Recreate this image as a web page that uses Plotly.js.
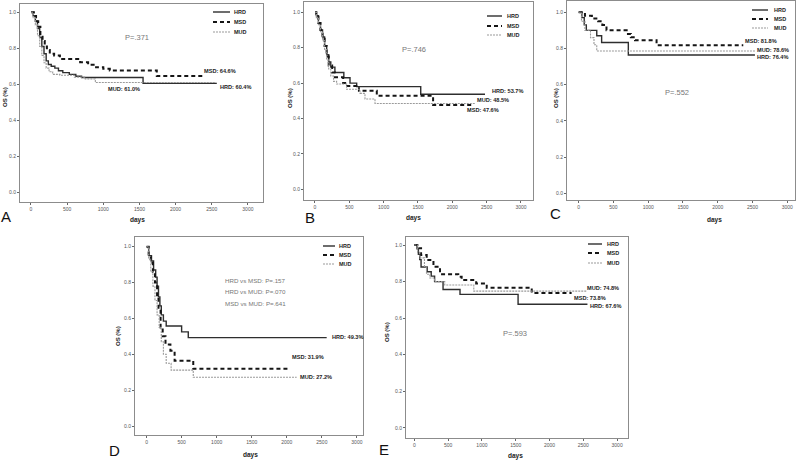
<!DOCTYPE html>
<html><head><meta charset="utf-8">
<script src="https://cdn.plot.ly/plotly-3.0.1.min.js"></script>
<style>html,body{margin:0;padding:0;background:#fff}#chart{width:800px;height:461px}</style>
</head><body><div id="chart"></div>
<script>
// ---------- DATA (Kaplan-Meier step curves: days / overall survival) ----------
const groups = ["HRD", "MSD", "MUD"];
const xTicks = [0, 500, 1000, 1500, 2000, 2500, 3000];
const yTicks = [0.0, 0.2, 0.4, 0.6, 0.8, 1.0];

// Panel A
const aHrdDays = [0,30,60,90,120,150,180,210,240,280,330,380,440,530,620,700,1550,2570];
const aHrdOS   = [1.0,0.98,0.95,0.91,0.86,0.81,0.77,0.73,0.71,0.70,0.69,0.675,0.665,0.655,0.645,0.638,0.605,0.605];
const aMsdDays = [0,40,70,100,130,160,190,220,260,320,400,680,790,900,1000,1090,1740,2380];
const aMsdOS   = [1.0,0.98,0.95,0.92,0.88,0.84,0.81,0.79,0.77,0.76,0.74,0.722,0.709,0.694,0.686,0.677,0.646,0.646];
const aMudDays = [0,30,60,90,120,150,180,210,250,300,400,600,750,890,2560];
const aMudOS   = [1.0,0.97,0.93,0.87,0.81,0.76,0.72,0.69,0.67,0.655,0.65,0.64,0.63,0.61,0.61];

// Panel B
const bHrdDays = [0,20,50,80,110,140,170,200,230,290,420,510,607,1540,2476];
const bHrdOS   = [1.0,0.98,0.94,0.90,0.86,0.81,0.76,0.72,0.69,0.66,0.63,0.60,0.58,0.537,0.537];
const bMsdDays = [0,20,50,80,110,140,170,200,250,290,410,470,640,900,1720,2306];
const bMsdOS   = [1.0,0.98,0.94,0.90,0.86,0.81,0.75,0.70,0.66,0.633,0.60,0.584,0.557,0.529,0.476,0.476];
const bMudDays = [0,20,50,80,110,140,170,200,230,270,315,460,655,728,874,2330];
const bMudOS   = [1.0,0.97,0.93,0.89,0.84,0.79,0.73,0.68,0.64,0.61,0.595,0.565,0.542,0.51,0.485,0.485];

// Panel C
const cHrdDays = [0,45,80,110,260,330,714,2535];
const cHrdOS   = [1.0,0.97,0.93,0.90,0.87,0.833,0.764,0.764];
const cMsdDays = [0,90,190,280,340,400,690,750,810,1120,2367];
const cMsdOS   = [1.0,0.98,0.965,0.95,0.93,0.90,0.88,0.862,0.845,0.818,0.818];
const cMudDays = [0,40,90,170,220,260,2535];
const cMudOS   = [1.0,0.95,0.90,0.86,0.82,0.786,0.786];

// Panel D
const dHrdDays = [0,30,70,100,130,150,170,190,210,240,280,500,595,2569];
const dHrdOS   = [1.0,0.95,0.92,0.87,0.83,0.78,0.72,0.67,0.62,0.585,0.558,0.525,0.493,0.493];
const dMsdDays = [0,30,60,90,120,150,170,200,230,270,340,400,666,2017];
const dMsdOS   = [1.0,0.95,0.91,0.86,0.80,0.72,0.65,0.55,0.50,0.455,0.42,0.364,0.319,0.319];
const dMudDays = [0,30,60,90,120,150,180,210,240,280,350,666,2141];
const dMudOS   = [1.0,0.93,0.86,0.78,0.70,0.62,0.55,0.47,0.40,0.35,0.312,0.272,0.272];

// Panel E
const eHrdDays = [0,40,60,80,100,190,250,300,425,676,1535,2561];
const eHrdOS   = [1.0,0.98,0.95,0.92,0.88,0.854,0.83,0.80,0.757,0.730,0.676,0.676];
const eMsdDays = [0,60,100,183,283,380,650,700,915,1071,1737,2327];
const eMsdOS   = [1.0,0.982,0.945,0.918,0.881,0.84,0.827,0.808,0.79,0.766,0.738,0.738];
const eMudDays = [0,50,80,150,180,230,300,450,880,2550];
const eMudOS   = [1.0,0.96,0.93,0.88,0.84,0.82,0.80,0.781,0.748,0.748];

const endLabels = {
  A: ["HRD: 60.4%", "MSD: 64.6%", "MUD: 61.0%"],
  B: ["HRD: 53.7%", "MSD: 47.6%", "MUD: 48.5%"],
  C: ["HRD: 76.4%", "MSD: 81.8%", "MUD: 78.6%"],
  D: ["HRD: 49.3%", "MSD: 31.9%", "MUD: 27.2%"],
  E: ["HRD: 67.6%", "MSD: 73.8%", "MUD: 74.8%"]
};
const pTexts = {
  A: ["P=.371"], B: ["P=.746"], C: ["P=.552"],
  D: ["HRD vs MSD: P=.157", "HRD vs MUD: P=.070", "MSD vs MUD: P=.641"],
  E: ["P=.593"]
};
const panelSeries = {
  A: [[aHrdDays,aHrdOS],[aMsdDays,aMsdOS],[aMudDays,aMudOS]],
  B: [[bHrdDays,bHrdOS],[bMsdDays,bMsdOS],[bMudDays,bMudOS]],
  C: [[cHrdDays,cHrdOS],[cMsdDays,cMsdOS],[cMudDays,cMudOS]],
  D: [[dHrdDays,dHrdOS],[dMsdDays,dMsdOS],[dMudDays,dMudOS]],
  E: [[eHrdDays,eHrdOS],[eMsdDays,eMsdOS],[eMudDays,eMudOS]]
};

// ---------- LAYOUT / STYLE ----------
const W = 800, H = 461;
const fx = p => p / W, fy = p => 1 - p / H;
const FONT = "Liberation Sans, Arial, sans-serif";
const styles = [
  {color:"#2e2e2e", width:1.4, dash:"solid"},
  {color:"#151515", width:2.0, dash:"4px,3px"},
  {color:"#9a9a9a", width:1.1, dash:"2px,1px"}
];
// pixel placements of each panel's elements
const panels = {
  A: {ax:"",  box:[20,4,263,202],  xr:[-152,3209], yr:[-0.054,1.046],
      legend:{x1:213,x2:230,tx:232,ys:[12,22,32]},
      labels:[[218,87],[202,71],[106,89]], p:{x:137,y:38,anchor:"center"},
      days:[137,220], os:[5,97], letter:[6,216]},
  B: {ax:"2", box:[304,2,533,200], xr:[-160,3175], yr:[-0.06,1.058],
      legend:{x1:487,x2:502,tx:505,ys:[16,26,35]},
      labels:[[490,91],[465,110],[475,100]], p:{x:414,y:49,anchor:"center"},
      days:[414,218], os:[290,98], letter:[310,217]},
  C: {ax:"3", box:[567,1,795,200], xr:[-168,3111], yr:[-0.037,1.062],
      legend:{x1:752,x2:768,tx:772,ys:[10,19,28]},
      labels:[[755,57],[743,41],[755,50]], p:{x:677,y:92,anchor:"center"},
      days:[714,220], os:[556,98], letter:[555,213]},
  D: {ax:"4", box:[135,237,363,435], xr:[-165,3087], yr:[-0.05,1.054],
      legend:{x1:323,x2:335,tx:337,ys:[246,255,264]},
      labels:[[330,337],[290,357],[298,377]], p:{x:223,y:280,dy:11.5,anchor:"left"},
      days:[250,455], os:[118,336], letter:[115,450]},
  E: {ax:"5", box:[406,237,628,438], xr:[-123,3161], yr:[-0.056,1.044],
      legend:{x1:588,x2:602,tx:605,ys:[244,253,263]},
      labels:[[588,306],[572,298],[585,288]], p:{x:515,y:333,anchor:"center"},
      days:[515,456], os:[387,332], letter:[384,449]}
};

const traces = [], shapes = [], annotations = [];
const layout = {
  width: W, height: H, margin:{l:0,r:0,t:0,b:0},
  paper_bgcolor:"#fff", plot_bgcolor:"#fff", showlegend:false,
  font:{family:FONT, color:"#333"}
};

Object.keys(panels).forEach(key => {
  const P = panels[key];
  const xa = "xaxis" + P.ax, ya = "yaxis" + P.ax;
  const [x0,y0,x1,y1] = P.box;
  const axCommon = {showline:true, mirror:true, linecolor:"#8c8c8c", linewidth:1,
    showgrid:false, zeroline:false, ticks:"outside", ticklen:2, tickcolor:"#666",
    tickfont:{size:5, color:"#555", family:FONT}, fixedrange:true};
  layout[xa] = Object.assign({}, axCommon, {domain:[fx(x0), fx(x1)], range:P.xr,
    tickvals:xTicks, ticktext:xTicks.map(String), anchor:"y"+P.ax});
  layout[ya] = Object.assign({}, axCommon, {domain:[fy(y1), fy(y0)], range:P.yr,
    tickvals:yTicks, ticktext:yTicks.map(v=>v.toFixed(1)), anchor:"x"+P.ax});

  panelSeries[key].forEach((s, i) => {
    traces.push({type:"scatter", mode:"lines", name:groups[i], x:s[0], y:s[1],
      xaxis:"x"+P.ax, yaxis:"y"+P.ax, line:Object.assign({shape:"hv"}, styles[i]),
      hoverinfo:"skip"});
    // legend sample + label
    shapes.push({type:"line", xref:"paper", yref:"paper",
      x0:fx(P.legend.x1), x1:fx(P.legend.x2), y0:fy(P.legend.ys[i]), y1:fy(P.legend.ys[i]),
      line:{color:styles[i].color, width:styles[i].width, dash:styles[i].dash}});
    annotations.push({xref:"paper", yref:"paper", x:fx(P.legend.tx), y:fy(P.legend.ys[i]),
      xanchor:"left", yanchor:"middle", showarrow:false, text:"<b>"+groups[i]+"</b>",
      font:{size:5.5, color:"#222", family:FONT}});
    // end-of-curve labels
    annotations.push({xref:"paper", yref:"paper", x:fx(P.labels[i][0]), y:fy(P.labels[i][1]),
      xanchor:"left", yanchor:"middle", showarrow:false, text:"<b>"+endLabels[key][i]+"</b>",
      font:{size:5.6, color:"#222", family:FONT}});
  });
  // p values
  pTexts[key].forEach((t, j) => {
    annotations.push({xref:"paper", yref:"paper", x:fx(P.p.x), y:fy(P.p.y + j*(P.p.dy||0)),
      xanchor:P.p.anchor, yanchor:"middle", showarrow:false, text:t,
      font:{size:key==="D"?6.2:7.5, color:"#777", family:FONT}});
  });
  // axis titles
  annotations.push({xref:"paper", yref:"paper", x:fx(P.days[0]), y:fy(P.days[1]),
    xanchor:"center", yanchor:"middle", showarrow:false, text:"<b>days</b>",
    font:{size:6.5, color:"#222", family:FONT}});
  annotations.push({xref:"paper", yref:"paper", x:fx(P.os[0]), y:fy(P.os[1]),
    xanchor:"center", yanchor:"middle", showarrow:false, text:"<b>OS (%)</b>", textangle:-90,
    font:{size:6, color:"#222", family:FONT}});
  // panel letter
  annotations.push({xref:"paper", yref:"paper", x:fx(P.letter[0]), y:fy(P.letter[1]),
    xanchor:"center", yanchor:"middle", showarrow:false, text:key,
    font:{size:15, color:"#111", family:FONT}});
});
layout.shapes = shapes;
layout.annotations = annotations;

Plotly.newPlot("chart", traces, layout, {staticPlot:true, displayModeBar:false});
</script>
</body></html>
